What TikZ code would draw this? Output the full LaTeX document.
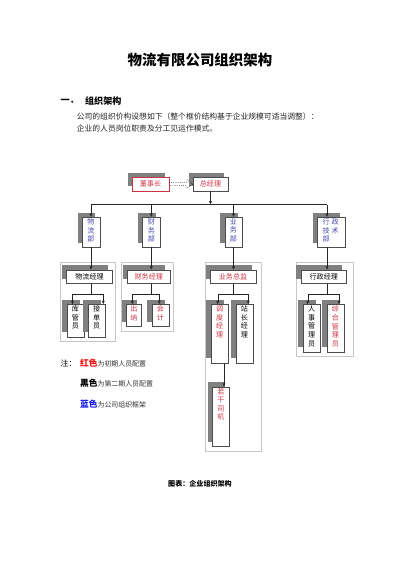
\documentclass[tikz,border=0pt]{standalone}
\usepackage{fontspec}
\setmainfont{Noto Sans CJK SC}
\usetikzlibrary{calc,shadows,arrows.meta}
\newdimen\PX \PX=1.4875pt
\definecolor{orgred}{HTML}{CC3344}
\definecolor{orgblue}{HTML}{4848B0}
\definecolor{notered}{HTML}{FF1010}
\definecolor{noteblue}{HTML}{2020F0}
\newcommand{\vtxt}[2]{\parbox[c][#1\PX][t]{1em}{\centering\vspace*{2pt}#2}}
\tikzset{
  box/.style={draw=black!70, fill=white, line width=0.6pt, inner sep=0pt,
    font=\fontsize{10.5}{12.8}\selectfont,
    drop shadow={shadow xshift=-4.5\PX, shadow yshift=4.5\PX, fill=black!50, opacity=1}},
  hbox/.style={box, minimum height=13.5\PX},
  vbox/.style={box, anchor=north, minimum width=17.5\PX},
  grp/.style={draw=black!22, line width=0.9pt},
  conn/.style={draw=black!85, line width=0.6pt},
  arr/.style={conn, -{Latex[length=5pt,width=4.5pt]}},
  txt/.style={inner sep=0pt, anchor=west},
}
\begin{document}
\begin{tikzpicture}[x=\PX, y=-\PX]
\fill[white] (0,0) rectangle (400,565);
\useasboundingbox (0,0) rectangle (400,565);
% heading
\node[font=\bfseries\fontsize{21.5}{24}\selectfont] (title) at (200,60) {物流有限公司组织架构};
\node[txt, font=\bfseries\fontsize{13.5}{16}\selectfont] (secno) at (60.5,101.5) {一．};
\node[txt, font=\bfseries\fontsize{13.5}{16}\selectfont] (sec) at (85,101.5) {组织架构};
\node[txt, font=\fontsize{11.6}{17.3}\selectfont, text=black!85, align=left] (intro) at (76.7,122.5)
  {公司的组织价构设想如下（整个框价结构基于企业规模可适当调整）：\\企业的人员岗位职责及分工见运作模式。};
% group frames
\draw[grp] (60,262) rectangle (115,341);
\draw[grp] (121,262) rectangle (173.3,331);
\draw[grp] (205,262) rectangle (261.7,451);
\draw[grp] (296,262) rectangle (353.3,356.7);
% board and manager
\node[hbox, draw=orgred, text=orgred, minimum width=37\PX] (dsz) at (150.5,184) {董事长};
\node[hbox, text=orgred, minimum width=35\PX] (zjl) at (210.5,184) {总经理};
% departments
\node[vbox, text=orgblue] (wlb) at (91,217) {\vtxt{30}{物\\流\\部}};
\node[vbox, text=orgblue] (cwb) at (151.3,217) {\vtxt{30}{财\\务\\部}};
\node[vbox, text=orgblue] (ywb) at (233.5,217) {\vtxt{30}{业\\务\\部}};
\node[vbox, text=orgblue, minimum width=27.7\PX] (xzb) at (331,217)
  {\parbox[c][30\PX][t]{2.4em}{\raggedright\vspace*{2pt}行\hspace{0.3em}政\\技\hspace{0.3em}术\\部}};
% group heads
\node[hbox, minimum width=45.6\PX] (wlm) at (89.5,276.7) {物流经理};
\node[hbox, text=orgred, minimum width=42.3\PX] (cwm) at (148.8,276.7) {财务经理};
\node[hbox, text=orgred, minimum width=46\PX] (ywm) at (233,276.7) {业务总监};
\node[hbox, minimum width=45.7\PX] (xzm) at (323.8,276.7) {行政经理};
% staff
\node[vbox] (kgy) at (75.5,304.3) {\vtxt{32.4}{库\\管\\员}};
\node[vbox] (jdy) at (96.7,304.3) {\vtxt{32.4}{接\\单\\员}};
\node[vbox, text=orgred, minimum width=15\PX] (cn) at (133.8,304.3) {\vtxt{21.7}{出\\纳}};
\node[vbox, text=orgred] (kj) at (160.5,304.3) {\vtxt{21.7}{会\\计}};
\node[vbox, text=orgred] (ddjl) at (219.7,304.3) {\vtxt{58.4}{调\\度\\经\\理}};
\node[vbox] (zzjl) at (244.5,304.3) {\vtxt{58.4}{站\\长\\经\\理}};
\node[vbox] (rsy) at (311.7,304.3) {\vtxt{47.4}{人\\事\\管\\理\\员}};
\node[vbox, text=orgred] (zhy) at (335.5,304.3) {\vtxt{47.4}{综\\合\\管\\理\\员}};
\node[vbox, text=orgred] (rgsj) at (220.8,386.7) {\vtxt{59.3}{若\\干\\司\\机}};
% connectors
\draw[dotted, conn, draw=black, line width=0.8pt] ($(dsz.east)+(0,-1.6)$) -- ($(zjl.west)+(-6,-1.6)$) -- ($(zjl.west)+(-6,-4.5)$)
  -- (zjl.west) -- ($(zjl.west)+(-6,4.5)$) -- ($(zjl.west)+(-6,1.6)$) -- ($(dsz.east)+(0,1.6)$);
\coordinate (c1) at (91,204.5);
\coordinate (c2) at (151.3,204.5);
\coordinate (c3) at (233.5,204.5);
\coordinate (c4) at (327,204.5);
\coordinate (sb) at (0,294.3);
\draw[arr] (zjl.south) -- (zjl.south |- c1);
\draw[conn] (c1) -- (c4);
\foreach \c/\d/\m in {c1/wlb/wlm, c2/cwb/cwm, c3/ywb/ywm, c4/xzb/xzm}{
  \draw[arr] (\c) -- (\c |- \d.north);
  \draw[arr] (\c |- \d.south) -- (\c |- \m.north);
}
\foreach \c/\m/\a/\da/\b/\db in {c1/wlm/kgy/-3/jdy/6.6, c2/cwm/cn/-1.5/kj/-1.2, c3/ywm/ddjl/-2/zzjl/3.8, c4/xzm/rsy/-4/zhy/3.5}{
  \draw[conn] (\c |- \m.south) -- (\c |- sb);
  \draw[conn] ($(\a.north)+(\da,-10)$) -- ($(\b.north)+(\db,-10)$);
  \draw[arr] ($(\a.north)+(\da,-10)$) -- ($(\a.north)+(\da,0)$);
  \draw[arr] ($(\b.north)+(\db,-10)$) -- ($(\b.north)+(\db,0)$);
}
\draw[arr] ($(ddjl.south)+(4.3,0)$) -- ($(rgsj.north)+(3.2,0)$);
% legend
\node[txt, font=\fontsize{11.7}{14}\selectfont] (note) at (60.5,363.5) {注：};
\node[txt, font=\fontsize{10.3}{14}\selectfont, text=black!80] (n1) at (80,363.5)
  {\textcolor{notered}{\bfseries\fontsize{13}{14}\selectfont 红色}为初期人员配置};
\node[txt, font=\fontsize{10.3}{14}\selectfont, text=black!80] (n2) at (80,383.5)
  {\textcolor{black}{\bfseries\fontsize{13}{14}\selectfont 黑色}为第二期人员配置};
\node[txt, font=\fontsize{10.3}{14}\selectfont, text=black!80] (n3) at (80,404.3)
  {\textcolor{noteblue}{\bfseries\fontsize{13}{14}\selectfont 蓝色}为公司组织框架};
\node[font=\bfseries\fontsize{10.5}{12}\selectfont] (cap) at (200,483.3) {图表：企业组织架构};
\end{tikzpicture}
\end{document}
